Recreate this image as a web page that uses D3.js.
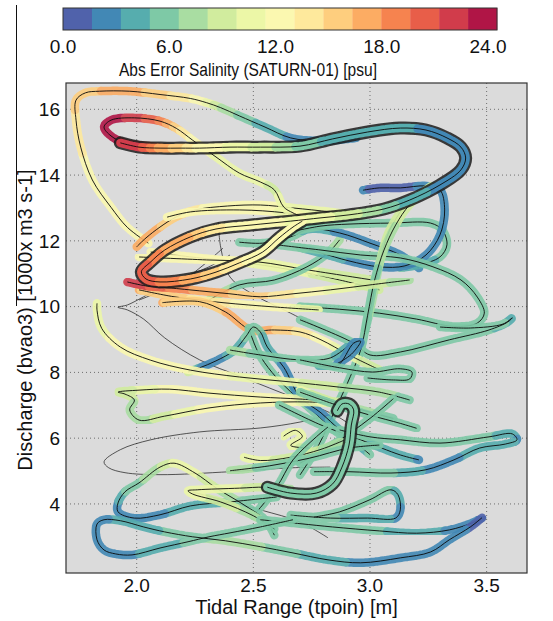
<!DOCTYPE html>
<html>
<head>
<meta charset="utf-8">
<script src="https://cdn.jsdelivr.net/npm/d3@7"></script>
<style>
  body { margin: 0; background: #fff; }
  svg { display: block; }
  text { font-family: "Liberation Sans", Arial, Helvetica, sans-serif; fill: #111; }
</style>
</head>
<body>
<svg id="chart" width="553" height="621"></svg>
<script>
// ---- axes ----
const xDomain = [1.697, 3.673];
const yDomain = [1.9, 16.8];
const xTicks = [2.0, 2.5, 3.0, 3.5];
const yTicks = [4, 6, 8, 10, 12, 14, 16];
const cbTicks = [0, 6, 12, 18, 24];
const errMax = 24;
const nBins = 15;
const xLabel = "Tidal Range (tpoin) [m]";
const yLabel = "Discharge (bvao3) [1000x m3 s-1]";
const cbLabel = "Abs Error Salinity (SATURN-01) [psu]";

// ---- trajectories: [tidal range, discharge, abs error] ----
const trOuterLoop = [[2.05,11.93,12],[1.96,12.41,12],[1.89,13.02,12],[1.81,13.85,12],[1.76,14.85,13],[1.74,15.67,14],[1.74,16.28,15],[1.78,16.50,15],[1.84,16.55,16],[1.97,16.55,17],[2.10,16.45,15],[2.23,16.33,13],[2.30,16.20,11],[2.36,16.05,8],[2.44,15.80,6],[2.55,15.46,4],[2.66,15.13,3],[2.79,15.04,2.5],[2.94,15.13,2]];
const trHook = [[2.18,14.80,17],[2.07,14.87,20],[1.95,14.98,22],[1.89,15.19,23],[1.86,15.46,23],[1.89,15.67,23],[1.99,15.74,22],[2.10,15.64,19],[2.17,15.42,15],[2.24,15.06,12],[2.34,14.55,11],[2.44,14.06,11],[2.53,13.79,10],[2.59,13.55,9],[2.63,13.03,11],[2.67,12.85,11],[2.72,12.70,12]];
const trUpperOrange = [[2.00,11.82,17],[2.04,12.09,17],[2.10,12.42,16],[2.17,12.73,15],[2.25,12.94,13],[2.39,13.06,12],[2.53,13.09,12],[2.67,13.00,11],[2.83,12.88,10],[2.96,12.76,9]];
const trUpperYellow = [[2.13,12.72,12],[2.23,12.88,12],[2.44,12.94,12],[2.64,12.85,11],[2.83,12.64,10]];
const trUnderTongue = [[2.01,11.51,12],[2.30,11.42,12],[2.52,11.36,11],[2.73,11.12,10],[3.01,10.81,8]];
const trOrangeTen = [[2.01,10.51,16],[2.16,10.30,15],[2.37,10.12,13],[2.59,9.99,12],[2.78,9.90,10]];
const trRedBand = [[1.96,10.75,22],[2.04,10.63,21],[2.14,10.57,19],[2.27,10.48,17],[2.40,10.39,16],[2.53,10.30,15],[2.67,10.39,13],[2.83,10.51,11],[3.00,10.66,9],[3.17,10.81,7]];
const trOrangeLow = [[2.11,10.12,16],[2.27,10.15,15],[2.38,9.84,16],[2.49,9.29,17],[2.59,9.29,16],[2.70,9.23,14],[2.79,8.99,12],[2.91,8.53,10],[3.04,8.08,9]];
const trTealHump = [[2.22,8.01,9],[2.27,8.14,3],[2.34,8.35,2.5],[2.42,8.68,4],[2.47,9.11,5],[2.50,9.38,5],[2.53,9.23,5],[2.56,8.77,4],[2.63,8.16,3],[2.70,7.25,3],[2.79,6.77,3],[2.87,6.25,3.5],[2.96,5.74,4],[3.00,5.50,5]];
const trTealHump2 = [[2.48,9.35,5],[2.52,8.62,5],[2.58,8.00,5],[2.66,7.41,5],[2.74,6.92,5],[2.83,6.34,5],[2.93,5.80,5]];
const trBlueCurl = [[2.97,13.54,2],[3.04,13.61,0.5],[3.13,13.61,1],[3.24,13.67,2],[3.30,13.55,2.5],[3.32,12.94,3],[3.30,12.18,3],[3.24,11.57,3],[3.15,11.24,3],[3.04,11.21,3],[2.91,11.39,3],[2.79,11.63,4],[2.70,11.79,5]];
const trGreenLoop = [[2.66,12.27,6],[2.79,12.45,6],[2.91,12.51,6],[3.09,12.54,6],[3.26,12.54,6],[3.31,12.33,6],[3.33,11.88,5],[3.30,11.51,5],[3.21,11.27,4],[3.13,11.18,5]];
const trGreenDiag = [[2.61,11.87,6],[2.79,11.72,6],[2.96,11.57,6],[3.13,11.48,6],[3.27,11.21,6],[3.39,10.81,6],[3.46,10.29,6],[3.49,9.80,6],[3.46,9.50,6],[3.36,9.40,6],[3.20,9.62,6],[3.04,9.80,6],[2.87,9.92,6],[2.70,10.00,6]];
const trSpur = [[2.70,9.60,6],[2.93,8.89,5],[3.00,8.53,5],[3.13,8.62,5],[3.34,8.99,5],[3.51,9.29,5],[3.59,9.53,4],[3.61,9.66,4],[3.57,9.47,5],[3.43,9.35,5],[3.30,9.38,5]];
const trSmallLoop = [[2.70,8.38,6],[2.87,8.14,6],[3.01,8.01,6],[3.13,8.11,6],[3.18,8.01,6],[3.17,7.80,6],[3.10,7.77,6],[2.99,7.83,6]];
const trRightLoop = [[2.87,6.25,5],[3.00,6.04,5],[3.13,5.95,5],[3.30,5.85,5],[3.51,6.04,5],[3.61,6.13,4],[3.63,5.95,3],[3.58,5.82,4],[3.47,5.70,4],[3.36,5.34,3],[3.24,5.04,3],[3.09,4.94,5],[2.91,4.98,5],[2.76,4.98,5]];
const trLowLoop = [[2.76,3.60,5],[2.87,3.76,5],[3.00,4.13,5],[3.09,4.43,5],[3.12,4.28,4],[3.13,3.82,3],[3.11,3.57,3],[2.99,3.57,4],[2.83,3.57,5],[2.66,3.66,5]];
const trBlueEnd = [[2.53,3.52,6],[2.70,3.40,6],[2.84,3.30,5],[3.04,3.18,5],[3.20,3.11,4],[3.34,3.21,3],[3.44,3.43,2.5],[3.48,3.58,1.5]];
const trBottom = [[3.48,3.58,1.5],[3.43,3.30,1.5],[3.34,2.91,2],[3.26,2.54,2],[3.13,2.36,2.5],[2.96,2.21,3],[2.82,2.30,3.5],[2.67,2.51,5],[2.53,2.70,6.5],[2.38,2.88,7],[2.24,3.00,6],[2.12,3.15,5],[2.03,3.30,4],[1.93,3.49,3.5],[1.86,3.52,3],[1.83,3.39,3],[1.83,2.91,3],[1.86,2.60,2.5],[1.91,2.48,2.5],[1.98,2.45,3],[2.10,2.66,4],[2.22,2.85,5],[2.31,3.00,5],[2.40,3.12,6],[2.53,3.30,6],[2.67,3.52,6]];
const trBlueHook = [[2.60,4.21,6],[2.40,4.06,5],[2.23,3.94,4],[2.10,3.67,3],[1.99,3.57,2],[1.92,3.76,2.5],[1.92,4.03,3],[1.95,4.37,5],[2.01,4.64,6],[2.10,5.12,8],[2.16,5.24,10],[2.25,4.94,10],[2.34,4.49,8],[2.46,3.97,6],[2.55,3.52,6],[2.59,3.05,6]];
const trYellowCurl = [[2.59,3.24,6],[2.50,3.64,7],[2.36,4.06,9],[2.24,4.30,10],[2.22,4.40,10],[2.26,4.43,11],[2.44,4.48,10],[2.55,4.51,8],[2.66,4.45,7]];
const trLeftYellow = [[1.83,10.10,11],[1.83,9.89,11],[1.85,9.34,11],[1.93,8.77,11.5],[2.06,8.37,12],[2.23,8.07,12],[2.44,7.86,11],[2.66,7.71,10],[2.87,7.55,8],[3.04,7.40,7],[3.17,7.16,6]];
const trMidLoop = [[2.87,7.10,9],[2.70,7.19,11],[2.53,7.25,12],[2.31,7.37,12],[2.14,7.49,12],[2.01,7.46,10],[1.92,7.40,8],[1.95,7.34,8],[1.99,7.16,8],[1.97,6.86,7],[2.01,6.55,7],[2.12,6.67,9],[2.31,6.92,12],[2.53,7.07,12],[2.74,7.10,11],[2.92,7.01,9]];
const trShortYellow = [[2.46,5.42,11],[2.53,5.32,10],[2.66,5.42,9],[2.79,5.66,8],[2.89,5.94,7]];
const trYellowKnot = [[2.63,6.06,11],[2.68,6.24,11],[2.71,6.05,10],[2.66,5.78,10],[2.74,5.70,9]];
const trSteep = [[3.26,13.66,9],[3.17,13.10,9],[3.11,12.48,8],[3.06,11.72,7],[3.02,10.81,6],[2.99,9.74,6],[2.96,8.68,6],[2.90,7.62,6],[2.84,6.70,6],[2.78,5.79,6],[2.70,4.88,6]];
const trSteep2 = [[3.15,13.10,9],[3.08,12.26,9],[3.04,11.27,8],[3.01,10.20,7],[2.98,9.29,6]];
const trTealBand = [[2.44,11.96,5],[2.54,11.93,5],[2.66,12.12,6],[2.74,12.36,4],[2.87,12.24,3],[3.00,11.93,3],[3.13,11.57,3],[3.21,11.17,3]];
const trYellowMid = [[2.06,11.66,12],[2.27,11.48,12],[2.44,11.36,11],[2.66,11.12,10],[2.87,10.81,9],[3.04,10.51,8]];
const trGreenMid = [[2.31,10.20,8],[2.44,10.66,6],[2.59,10.81,6],[2.73,11.21,6],[2.82,11.63,6],[2.87,12.03,7]];
const trGreenLow = [[2.40,8.68,7],[2.53,8.53,6],[2.70,8.38,6],[2.83,8.44,5],[2.91,8.83,4]];
const trGreenFive = [[2.40,5.01,7],[2.57,5.16,6],[2.74,5.39,5],[2.91,5.70,5],[3.04,5.79,5]];
const trGreenRise = [[2.50,3.64,6],[2.60,4.51,6],[2.67,5.34,6],[2.77,6.04,6],[2.82,6.34,6]];
const trGreenSix = [[2.70,7.40,6],[2.86,7.00,5],[3.00,6.70,5],[3.13,6.45,5],[3.20,6.30,5]];
const trBlueKnot = [[2.78,8.20,4],[2.86,8.20,3],[2.93,8.89,3],[2.96,8.95,3],[2.92,8.55,3],[2.86,8.27,3]];
const trCrossA = [[2.61,7.01,6],[2.79,6.40,5],[2.96,5.95,5],[3.13,5.49,4],[3.21,5.34,3]];
const trCrossB = [[2.70,7.47,10],[2.82,7.16,9],[3.01,6.77,7],[3.10,6.60,6]];
const trCrossC = [[2.70,5.24,6],[2.84,5.80,5],[3.00,6.60,5],[3.10,7.20,5]];

// highlighted runs
const hiMain = [[1.93,14.98,22],[2.01,14.85,21],[2.10,14.82,17],[2.19,14.82,15],[2.27,14.82,12],[2.40,14.85,11],[2.53,14.85,9],[2.70,14.88,6],[2.84,15.10,4],[2.99,15.31,3.5],[3.13,15.43,3.5],[3.24,15.37,3],[3.33,15.13,3],[3.39,14.85,3],[3.41,14.52,3],[3.39,14.16,3],[3.30,13.70,3],[3.17,13.24,3.5],[3.06,12.97,6],[2.91,12.79,9],[2.79,12.70,10],[2.66,12.60,11],[2.49,12.48,12],[2.34,12.36,13],[2.23,12.12,16],[2.12,11.72,17],[2.06,11.36,19],[2.02,11.06,20],[2.04,10.84,20],[2.10,10.75,19],[2.23,10.84,17],[2.34,11.05,15],[2.44,11.33,13],[2.54,11.66,12],[2.61,12.09,12],[2.67,12.42,12],[2.71,12.60,12]];
const hiJ = [[2.56,4.51,5],[2.66,4.33,5],[2.77,4.33,5],[2.84,4.61,5],[2.88,5.12,5],[2.91,5.79,5],[2.92,6.40,5],[2.93,6.86,5],[2.91,7.04,5],[2.88,7.04,5],[2.86,6.83,5]];

// traces without error colouring
const thinLozenge = [[2.82,6.70],[2.70,6.49],[2.53,6.31],[2.27,6.19],[2.06,5.95],[1.93,5.65],[1.86,5.28],[1.88,5.10],[1.95,4.95],[2.10,4.89],[2.40,4.98],[2.67,5.10],[2.83,5.12]];
const thinDiagonal = [[2.40,11.57],[2.31,11.21],[2.17,10.81],[2.03,10.30],[1.96,10.05],[1.92,9.98],[1.96,9.90],[2.03,9.62],[2.12,9.05],[2.27,8.38],[2.44,7.89],[2.61,7.41],[2.74,7.04],[2.87,6.62],[3.00,5.95]];
const thinShort = [[2.24,4.36],[2.53,3.82],[2.70,3.45],[2.82,2.97]];
const thinDrop = [[2.35,12.57],[2.36,11.81],[2.40,10.90],[2.49,10.41],[2.66,9.80],[2.80,9.29]];
const thinUp = [[2.01,10.20],[2.20,10.81],[2.37,11.78]];

const bandTracks = [trOuterLoop, trUpperOrange, trUpperYellow, trYellowMid, trUnderTongue, trGreenMid, trTealBand, trGreenLoop,
  trBlueCurl, trGreenDiag, trSpur, trSteep2, trSteep, trOrangeTen, trOrangeLow, trRedBand, trHook, trTealHump2, trTealHump,
  trGreenLow, trBlueKnot, trSmallLoop, trLeftYellow, trMidLoop, trCrossB, trGreenSix, trCrossA, trCrossC, trRightLoop,
  trShortYellow, trYellowKnot, trGreenFive, trGreenRise, trBlueHook, trYellowCurl, trLowLoop, trBlueEnd, trBottom];
const thinTracks = [thinLozenge, thinDiagonal, thinShort, thinDrop, thinUp];
const highlightTracks = [hiMain, hiJ];

// ---- layout ----
const svg = d3.select("#chart");
const M = { l: 66, r: 527, t: 83, b: 573 };
const x = d3.scaleLinear().domain(xDomain).range([M.l, M.r]);
const y = d3.scaleLinear().domain(yDomain).range([M.b, M.t]);
const cb = { x0: 63, x1: 497, y0: 8, y1: 30 };
const cbScale = d3.scaleLinear().domain([0, errMax]).range([cb.x0, cb.x1]);

const binColor = i => d3.interpolateSpectral(1 - (i + 0.5) / nBins);
const errBin = e => Math.max(0, Math.min(nBins - 1, Math.floor(e / errMax * nBins)));

const defs = svg.append("defs");
defs.append("clipPath").attr("id", "plotClip")
  .append("rect").attr("x", M.l).attr("y", M.t).attr("width", M.r - M.l).attr("height", M.b - M.t);
defs.append("filter").attr("id", "soft").attr("x", "-10%").attr("y", "-10%").attr("width", "120%").attr("height", "120%")
  .append("feGaussianBlur").attr("stdDeviation", 0.6);

// plot background and grid
svg.append("rect").attr("x", M.l).attr("y", M.t).attr("width", M.r - M.l).attr("height", M.b - M.t).attr("fill", "#dbdbdb");
const grid = svg.append("g").attr("stroke", "#6e6e6e").attr("stroke-width", 1).attr("stroke-dasharray", "1,3");
xTicks.forEach(v => grid.append("line").attr("x1", x(v)).attr("x2", x(v)).attr("y1", M.t).attr("y2", M.b));
yTicks.forEach(v => grid.append("line").attr("x1", M.l).attr("x2", M.r).attr("y1", y(v)).attr("y2", y(v)));

const plot = svg.append("g").attr("clip-path", "url(#plotClip)");
const scratch = svg.append("g").attr("visibility", "hidden");

const curveLine = d3.line().x(d => x(d[0])).y(d => y(d[1])).curve(d3.curveCatmullRom.alpha(0.5));

// Walk a smoothed trace and split it into runs of equal colour bin
function sampleTrack(pts) {
  const d = curveLine(pts);
  const node = scratch.append("path").attr("d", d).node();
  const L = node.getTotalLength();
  const P = pts.map(p => [x(p[0]), y(p[1])]);
  const cum = [0];
  for (let i = 1; i < P.length; i++) cum.push(cum[i - 1] + Math.hypot(P[i][0] - P[i - 1][0], P[i][1] - P[i - 1][1]));
  const C = cum[cum.length - 1];
  const n = Math.max(2, Math.ceil(L / 2));
  const samples = [];
  let j = 0;
  for (let k = 0; k <= n; k++) {
    const q = node.getPointAtLength(L * k / n);
    const f = C * k / n;
    while (j < cum.length - 2 && cum[j + 1] < f) j++;
    const t = Math.max(0, Math.min(1, (f - cum[j]) / ((cum[j + 1] - cum[j]) || 1)));
    const e = pts[j][2] + (pts[j + 1][2] - pts[j][2]) * t;
    samples.push({ x: q.x, y: q.y, b: errBin(e) });
  }
  node.remove();
  const runs = [];
  let cur = { b: samples[0].b, pts: [samples[0]] };
  for (let k = 1; k < samples.length; k++) {
    const s = samples[k];
    cur.pts.push(s);
    if (s.b !== cur.b) { runs.push(cur); cur = { b: s.b, pts: [s] }; }
  }
  if (cur.pts.length > 1) runs.push(cur);
  return { d, runs };
}

function drawRuns(g, runs, width) {
  runs.forEach(r => g.append("path")
    .attr("d", "M" + r.pts.map(p => p.x.toFixed(1) + "," + p.y.toFixed(1)).join("L"))
    .attr("fill", "none").attr("stroke", binColor(r.b)).attr("stroke-width", width)
    .attr("stroke-linecap", "round").attr("stroke-linejoin", "round"));
}

function drawCentre(g, d) {
  g.append("path").attr("d", d).attr("fill", "none").attr("stroke", "#0a0a0a")
    .attr("stroke-width", 1).attr("opacity", 0.9);
}

thinTracks.forEach(t => {
  plot.append("path").attr("d", curveLine(t)).attr("fill", "none")
    .attr("stroke", "#111").attr("stroke-width", 0.8).attr("opacity", 0.85);
});

bandTracks.forEach(t => {
  const { d, runs } = sampleTrack(t);
  const g = plot.append("g");
  drawRuns(g.append("g").attr("opacity", 0.9).attr("filter", "url(#soft)"), runs, 8.5);
  drawCentre(g, d);
});

highlightTracks.forEach(t => {
  const { d, runs } = sampleTrack(t);
  const g = plot.append("g");
  g.append("path").attr("d", d).attr("fill", "none").attr("stroke", "#1e1e1e").attr("stroke-width", 13)
    .attr("opacity", 0.85).attr("stroke-linecap", "round").attr("stroke-linejoin", "round").attr("filter", "url(#soft)");
  drawRuns(g.append("g"), runs, 8.5);
  drawCentre(g, d);
});

// frame
svg.append("rect").attr("x", M.l).attr("y", M.t).attr("width", M.r - M.l).attr("height", M.b - M.t)
  .attr("fill", "none").attr("stroke", "#333").attr("stroke-width", 1.2);

// tick labels
svg.append("g").selectAll("text").data(xTicks).join("text")
  .attr("x", d => x(d)).attr("y", 592).attr("text-anchor", "middle").attr("font-size", 19)
  .text(d3.format(".1f"));
svg.append("g").selectAll("text").data(yTicks).join("text")
  .attr("x", 60).attr("y", d => y(d)).attr("dy", "0.35em").attr("text-anchor", "end").attr("font-size", 19)
  .text(d => d);

svg.append("text").attr("x", (M.l + M.r) / 2).attr("y", 614).attr("text-anchor", "middle").attr("font-size", 20).text(xLabel);
svg.append("text").attr("transform", "translate(32,320) rotate(-90)").attr("text-anchor", "middle").attr("font-size", 20).text(yLabel);
svg.append("line").attr("x1", 16.5).attr("x2", 16.5).attr("y1", 5).attr("y2", 306).attr("stroke", "#111").attr("stroke-width", 1);

// colour bar
const cbG = svg.append("g");
d3.range(nBins).forEach(i => {
  const a = cbScale(i * errMax / nBins), b = cbScale((i + 1) * errMax / nBins);
  cbG.append("rect").attr("x", a).attr("y", cb.y0).attr("width", b - a + 0.3).attr("height", cb.y1 - cb.y0).attr("fill", binColor(i));
});
cbG.append("rect").attr("x", cb.x0).attr("y", cb.y0).attr("width", cb.x1 - cb.x0).attr("height", cb.y1 - cb.y0)
  .attr("fill", "none").attr("stroke", "#333").attr("stroke-width", 1);
const cbLabelScale = d3.scaleLinear().domain([0, errMax]).range([cb.x0, cb.x1 - 9]);
cbG.selectAll("text.tick").data(cbTicks).join("text").attr("class", "tick")
  .attr("x", d => cbLabelScale(d)).attr("y", 53).attr("text-anchor", "middle").attr("font-size", 19)
  .text(d3.format(".1f"));
cbG.append("text").attr("x", 248).attr("y", 76).attr("text-anchor", "middle").attr("font-size", 18)
  .attr("textLength", 258).attr("lengthAdjust", "spacingAndGlyphs").text(cbLabel);
</script>
</body>
</html>
